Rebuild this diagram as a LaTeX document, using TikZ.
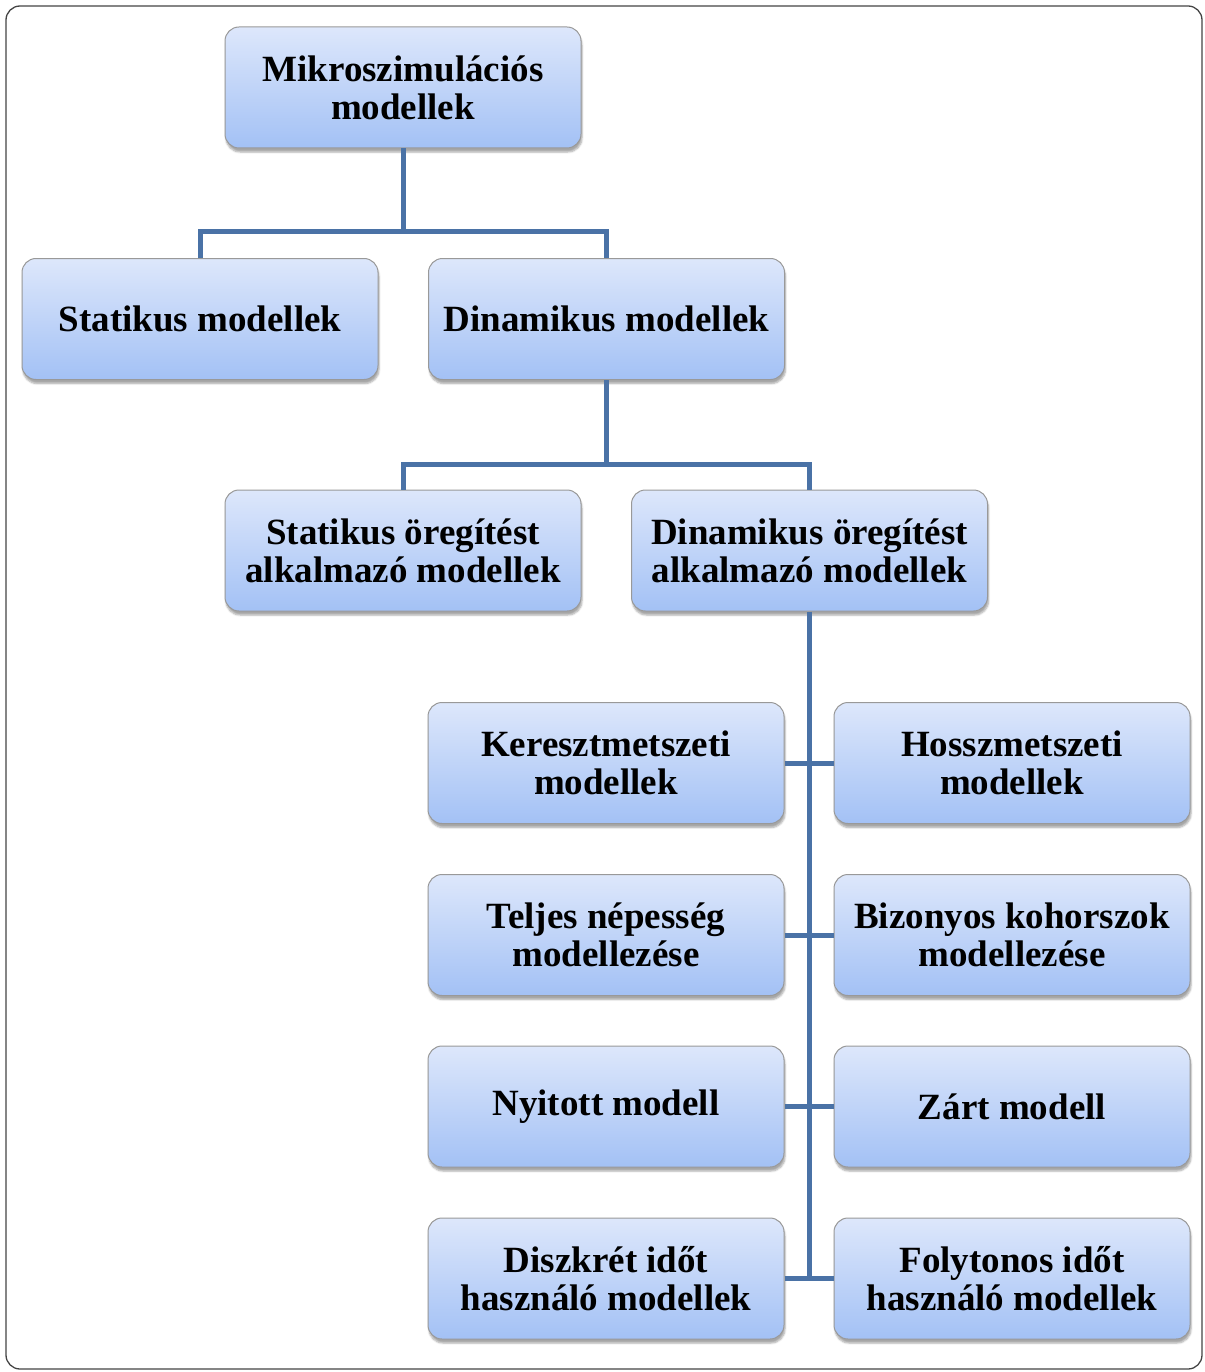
\documentclass[tikz,border=0pt]{standalone}
\usepackage{fontspec}
\setmainfont{Liberation Serif}
\usetikzlibrary{shadows.blur}
\definecolor{boxtop}{HTML}{DDE7FB}
\definecolor{boxbot}{HTML}{A3C1F5}
\definecolor{linecol}{HTML}{4A72A6}
\definecolor{framecol}{HTML}{444444}
\tikzset{
  mbox/.style={rectangle, rounded corners=14pt, draw=gray!80, line width=1pt,
    top color=boxtop, bottom color=boxbot, minimum width=356pt, minimum height=121pt,
    align=center, font=\fontsize{37}{38}\selectfont\bfseries,
    blur shadow={shadow xshift=1pt, shadow yshift=-4pt, shadow blur steps=5, shadow opacity=35}},
  conn/.style={draw=linecol, line width=5pt}
}
\begin{document}
\begin{tikzpicture}[x=1pt,y=-1pt]
\useasboundingbox (0,0) rectangle (1204,1372);
\draw[framecol, line width=1.3pt, rounded corners=14pt] (6,6) rectangle (1202,1369);
\node[mbox] (root) at (403,87.5) {Mikroszimulációs\\modellek};
\node[mbox] (stat) at (200,319) {Statikus modellek};
\node[mbox] (dyn) at (606.5,319) {Dinamikus modellek};
\node[mbox] (sage) at (403,550.5) {Statikus öregítést\\alkalmazó modellek};
\node[mbox] (dage) at (809.5,550.5) {Dinamikus öregítést\\alkalmazó modellek};
\node[mbox] (a1) at (606,763) {Keresztmetszeti\\modellek};
\node[mbox] (b1) at (1012,763) {Hosszmetszeti\\modellek};
\node[mbox] (a2) at (606,935) {Teljes népesség\\modellezése};
\node[mbox] (b2) at (1012,935) {Bizonyos kohorszok\\modellezése};
\node[mbox] (a3) at (606,1106.5) {Nyitott modell\vphantom{g}};
\node[mbox] (b3) at (1012,1106.5) {Zárt modell};
\node[mbox] (a4) at (606,1278.5) {Diszkrét időt\\használó modellek};
\node[mbox] (b4) at (1012,1278.5) {Folytonos időt\\használó modellek};
\coordinate (j1) at (403,232);
\coordinate (j2) at (606.5,464);
\draw[conn] (root.south) -- (j1);
\draw[conn] (stat.north) |- (j1) -| (dyn.north);
\draw[conn] (dyn.south) -- (j2);
\draw[conn] (sage.north) |- (j2) -| (dage.north);
\draw[conn] (dage.south) -- (dage.south |- a4.east);
\draw[conn] (a1.east) -- (b1.west);
\draw[conn] (a2.east) -- (b2.west);
\draw[conn] (a3.east) -- (b3.west);
\draw[conn] (a4.east) -- (b4.west);
\end{tikzpicture}
\end{document}
